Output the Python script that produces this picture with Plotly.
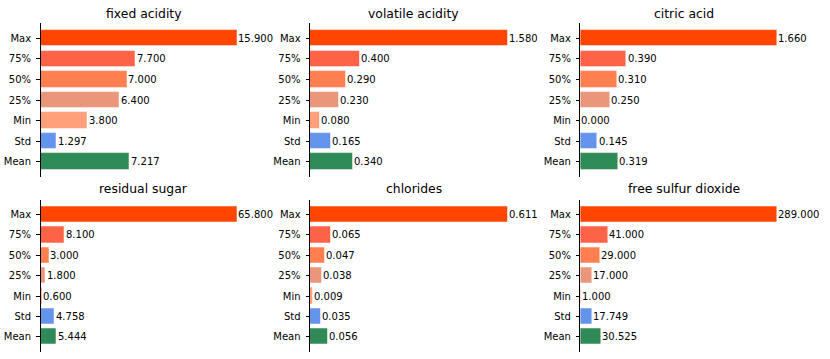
import plotly.graph_objects as go
from plotly.subplots import make_subplots

categories = ["Mean", "Std", "Min", "25%", "50%", "75%", "Max"]
bar_colors = ["seagreen", "cornflowerblue", "lightsalmon", "darksalmon", "coral", "tomato", "orangered"]

titles = ["fixed acidity", "volatile acidity", "citric acid",
          "residual sugar", "chlorides", "free sulfur dioxide"]

fixed_acidity = [7.217, 1.297, 3.800, 6.400, 7.000, 7.700, 15.900]
volatile_acidity = [0.340, 0.165, 0.080, 0.230, 0.290, 0.400, 1.580]
citric_acid = [0.319, 0.145, 0.000, 0.250, 0.310, 0.390, 1.660]
residual_sugar = [5.444, 4.758, 0.600, 1.800, 3.000, 8.100, 65.800]
chlorides = [0.056, 0.035, 0.009, 0.038, 0.047, 0.065, 0.611]
free_sulfur_dioxide = [30.525, 17.749, 1.000, 17.000, 29.000, 41.000, 289.000]

series = [fixed_acidity, volatile_acidity, citric_acid,
          residual_sugar, chlorides, free_sulfur_dioxide]

W, H = 830, 359
FONT = "DejaVu Sans"

# pixel layout of each axes box: (left, right, top, bottom)
boxes = [
    (40.5, 247.1, 23.1, 176.9), (310.0, 517.6, 23.1, 176.9), (580.3, 787.2, 23.1, 176.9),
    (40.5, 247.1, 199.5, 351.8), (310.0, 517.6, 199.5, 351.8), (580.3, 787.2, 199.5, 351.8),
]
title_y = [13.3, 13.3, 13.3, 188.6, 188.6, 188.6]

fig = make_subplots(rows=2, cols=3)

for i, (vals, title) in enumerate(zip(series, titles)):
    r, c = i // 3 + 1, i % 3 + 1
    idx = list(range(len(categories)))
    fig.add_trace(go.Bar(
        x=vals, y=idx, orientation="h", width=0.8,
        marker=dict(color=bar_colors, line=dict(color="rgba(255,255,255,0.5)", width=1)),
        showlegend=False, hoverinfo="skip",
    ), row=r, col=c)
    xa = "x" if i == 0 else f"x{i+1}"
    ya = "y" if i == 0 else f"y{i+1}"
    for k, v in enumerate(vals):
        fig.add_annotation(
            x=v, y=k, xref=xa, yref=ya, text=f"{v:.3f}", showarrow=False,
            xanchor="left", yanchor="middle", xshift=-1,
            font=dict(family=FONT, size=10, color="black"),
        )
    left, right, top, bottom = boxes[i]
    xd = [left / W, right / W]
    yd = [1 - bottom / H, 1 - top / H]
    mx = max(vals)
    fig.update_xaxes(domain=xd, range=[0, mx * 1.05], visible=False,
                     automargin=False, row=r, col=c)
    fig.update_yaxes(
        domain=yd, range=[-0.74, 6.74], tickvals=idx, ticktext=categories,
        showline=True, linecolor="black", linewidth=0.8,
        ticks="outside", ticklen=3.5, tickwidth=0.8, tickcolor="black",
        showgrid=False, zeroline=False, automargin=False, ticklabelstandoff=3,
        tickfont=dict(family=FONT, size=10, color="black"),
        row=r, col=c,
    )
    fig.add_annotation(
        x=(left + right) / 2 / W, y=1 - title_y[i] / H, xref="paper", yref="paper",
        text=title, showarrow=False, xanchor="center", yanchor="middle",
        font=dict(family=FONT, size=12.4, color="black"),
    )

fig.update_layout(
    width=W, height=H, margin=dict(l=0, r=0, t=0, b=0, autoexpand=False),
    paper_bgcolor="white", plot_bgcolor="white",
    font=dict(family=FONT, size=10, color="black"),
    bargap=0,
)

fig.write_html("out.html", config={"displayModeBar": False},
               post_script="document.body.style.margin='0';document.body.style.padding='0';")
